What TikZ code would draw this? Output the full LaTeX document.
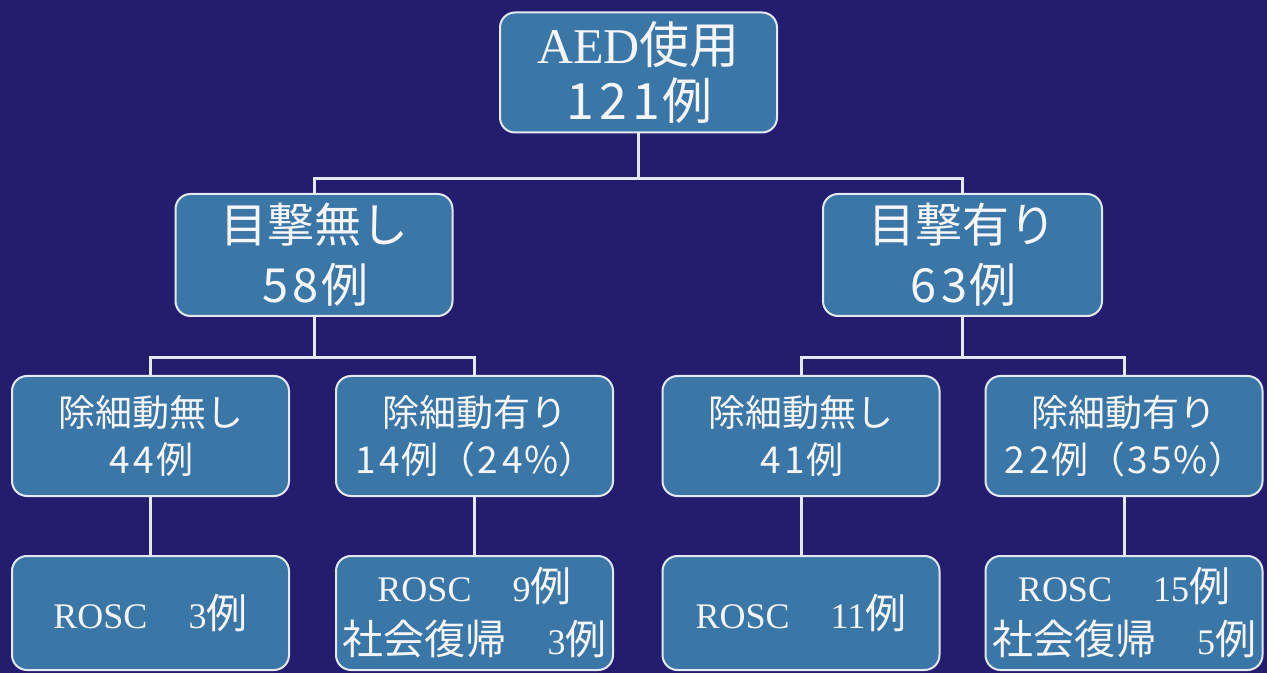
\documentclass[tikz,border=0pt]{standalone}
\usepackage{fontspec}
\setmainfont{Liberation Serif}
\newfontfamily\jp{Noto Sans CJK JP}
\definecolor{bg}{RGB}{36,28,108}
\definecolor{boxfill}{RGB}{58,118,166}
\definecolor{edge}{RGB}{228,232,242}
\definecolor{txt}{RGB}{246,246,250}
\tikzset{
  box/.style={draw=edge, line width=2pt, fill=boxfill, rounded corners=15pt,
    minimum width=277pt, minimum height=120pt, align=center, text=txt, inner sep=0pt},
  toptext/.style={font=\fontsize{50}{56}\selectfont},
  midtext/.style={font=\jp\fontsize{47}{60}\selectfont},
  lowtext/.style={font=\jp\fontsize{37}{47}\selectfont},
  endtext/.style={font=\fontsize{36}{53}\selectfont, minimum height=114pt},
  link/.style={draw=edge, line width=3pt},
}
\newcommand{\jj}[1]{{\jp\fontsize{41}{53}\selectfont #1}}
\newcommand{\dg}[1]{\kern0.05em#1\kern0.05em}
\begin{document}
\begin{tikzpicture}[x=1pt,y=1pt]
\fill[bg] (0,0) rectangle (1267,673);
\useasboundingbox (0,0) rectangle (1267,673);
% level 1
\node[box, toptext] (top) at (638.5,600.5) {AED{\jp 使用}\\{\jp \dg1\dg2\dg1例}};
% level 2
\node[box, midtext, minimum height=122pt] (ua) at (314,418) {目撃無し\\\dg5\dg8例};
\node[box, midtext, minimum height=122pt, minimum width=279pt] (wa) at (962.5,418) {目撃有り\\\dg6\dg3例};
% level 3
\node[box, lowtext] (una) at (150.5,237) {除細動無し\\\dg4\dg4例};
\node[box, lowtext] (unb) at (474.5,237) {除細動有り\\\dg1\dg4例（\dg2\dg4\%）};
\node[box, lowtext] (wna) at (801,237) {除細動無し\\\dg4\dg1例};
\node[box, lowtext] (wnb) at (1124,237) {除細動有り\\\dg2\dg2例（\dg3\dg5\%）};
% level 4
\node[box, endtext] (ra) at (150.5,60) {ROSC\jj{　}3\jj{例}};
\node[box, endtext] (rb) at (474.5,60) {ROSC\jj{　}9\jj{例}\\\jj{社会復帰　}3\jj{例}};
\node[box, endtext] (rc) at (801,60) {ROSC\jj{　}11\jj{例}};
\node[box, endtext] (rd) at (1124,60) {ROSC\jj{　}15\jj{例}\\\jj{社会復帰　}5\jj{例}};
% connectors
\draw[link] (top.south) -- ++(0,-45) -| (ua.north);
\draw[link] (top.south) -- ++(0,-45) -| (wa.north);
\draw[link] (ua.south) -- ++(0,-41) -| (una.north);
\draw[link] (ua.south) -- ++(0,-41) -| (unb.north);
\draw[link] (wa.south) -- ++(0,-41) -| (wna.north);
\draw[link] (wa.south) -- ++(0,-41) -| (wnb.north);
\draw[link] (una.south) -- (ra.north);
\draw[link] (unb.south) -- (rb.north);
\draw[link] (wna.south) -- (rc.north);
\draw[link] (wnb.south) -- (rd.north);
\end{tikzpicture}
\end{document}
